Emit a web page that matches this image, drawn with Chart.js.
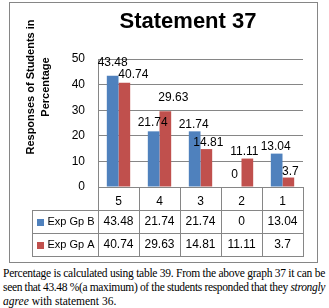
<!DOCTYPE html>
<html>
<head>
<meta charset="utf-8">
<script src="https://cdn.jsdelivr.net/npm/chart.js@4"></script>
<style>
  body { margin: 0; background: #fff; width: 329px; height: 308px; overflow: hidden; position: relative; }
  #c { position: absolute; left: 0; top: 0; }
  #cap { position: absolute; left: 3px; top: 266px; width: 322px; font: 11.5px "Liberation Serif"; line-height: 14px; color: #000; }
  #cap div { white-space: nowrap; }
  #cap span { display: inline-block; }
</style>
</head>
<body>
<canvas id="c" width="329" height="265"></canvas>
<div id="cap">
  <div class="fit"><span>Percentage is calculated using table 39. From the above graph 37 it can be</span></div>
  <div class="fit"><span>seen that 43.48 %(a maximum) of the students responded that they <i>strongly</i></span></div>
  <div><span><i>agree</i> with statement 36.</span></div>
</div>
<script>
const categories = ['5', '4', '3', '2', '1'];
const seriesNames = ['Exp Gp B', 'Exp Gp A'];
const expGpB = [43.48, 21.74, 21.74, 0, 13.04];
const expGpA = [40.74, 29.63, 14.81, 11.11, 3.7];
const yTicks = [0, 10, 20, 30, 40, 50];

const colors = ['#4F81BD', '#C0504D'];
const GRID = '#868686';
const FONT = '12px "Liberation Sans"';

// where excel nudged the value labels (dx, dy from bar top)
const labelShift = [
  [[0, -13], [-1, -9], [-1, -7], [-1, -12], [-1, -7]],
  [[9, -8], [8, -13], [2, -6], [-3, -7], [2, -6]]
];

// justify caption lines by hand so they never wrap
document.querySelectorAll('#cap .fit span').forEach(sp => {
  const target = 322;
  const w = sp.getBoundingClientRect().width;
  const txt = sp.textContent;
  if (w > target) {
    sp.style.letterSpacing = ((target - w) / txt.length) + 'px';
  } else {
    const spaces = (txt.match(/ /g) || []).length;
    sp.style.wordSpacing = ((target - w) / spaces) + 'px';
  }
});

const extras = {
  id: 'extras',
  afterDatasetsDraw(chart) {
    const ctx = chart.ctx;
    ctx.save();
    ctx.font = FONT;
    ctx.fillStyle = '#000';
    ctx.textAlign = 'center';
    ctx.textBaseline = 'middle';
    chart.data.datasets.forEach((ds, d) => {
      chart.getDatasetMeta(d).data.forEach((bar, i) => {
        const s = labelShift[d][i];
        ctx.fillText(String(ds.data[i]), bar.x + s[0], bar.y + s[1]);
      });
    });
    ctx.restore();
  },
  afterDraw(chart) {
    const ctx = chart.ctx;
    const xs = chart.scales.x;
    const area = chart.chartArea;
    ctx.save();

    // title
    ctx.fillStyle = '#000';
    ctx.font = 'bold 22px "Liberation Sans"';
    ctx.textAlign = 'center';
    ctx.textBaseline = 'alphabetic';
    ctx.fillText('Statement 37', 188, 28);

    // y axis title
    ctx.font = 'bold 11px "Liberation Sans"';
    [['Responses of Students in', 34], ['Percentage', 49]].forEach(([t, bx]) => {
      ctx.save();
      ctx.translate(bx, 87);
      ctx.rotate(-Math.PI / 2);
      ctx.fillText(t, 0, 0);
      ctx.restore();
    });

    // data table
    const top0 = area.bottom;
    const r1 = top0 + 23, r2 = r1 + 23, r3 = r2 + 23;
    const tl = 32;
    const colW = (xs.right - xs.left) / categories.length;
    ctx.strokeStyle = GRID;
    ctx.lineWidth = 1;
    ctx.beginPath();
    for (let i = 0; i <= categories.length; i++) {
      const x = Math.round(xs.left + i * colW) + 0.5;
      ctx.moveTo(x, top0);
      ctx.lineTo(x, r3);
    }
    ctx.moveTo(tl + 0.5, r1);
    ctx.lineTo(tl + 0.5, r3);
    [r1, r2, r3].forEach(y => {
      ctx.moveTo(tl, Math.round(y) + 0.5);
      ctx.lineTo(xs.right + 1, Math.round(y) + 0.5);
    });
    ctx.stroke();

    const rows = [expGpB, expGpA];
    const mids = [(r1 + r2) / 2, (r2 + r3) / 2];
    rows.forEach((vals, d) => {
      const ym = mids[d];
      ctx.fillStyle = colors[d];
      ctx.fillRect(37, Math.round(ym) - 3, 7, 7);
      ctx.fillStyle = '#000';
      ctx.font = '11px "Liberation Sans"';
      ctx.textAlign = 'left';
      ctx.textBaseline = 'middle';
      ctx.fillText(seriesNames[d], 47.5, ym + 0.5);
      ctx.font = FONT;
      ctx.textAlign = 'center';
      vals.forEach((v, i) => {
        ctx.fillText(String(v), xs.getPixelForValue(i), ym + 0.5);
      });
    });

    // outer frame
    ctx.strokeStyle = GRID;
    ctx.strokeRect(9.5, 2.5, 308, 260);
    ctx.restore();
  }
};

new Chart(document.getElementById('c'), {
  type: 'bar',
  data: {
    labels: categories,
    datasets: [
      { label: seriesNames[0], data: expGpB, backgroundColor: colors[0] },
      { label: seriesNames[1], data: expGpA, backgroundColor: colors[1] }
    ]
  },
  options: {
    responsive: false,
    animation: false,
    layout: { padding: { top: 59, right: 26, left: 0, bottom: 0 } },
    plugins: { legend: { display: false }, tooltip: { enabled: false } },
    datasets: { bar: { categoryPercentage: 0.57, barPercentage: 1 } },
    scales: {
      x: {
        grid: { display: false, drawTicks: false },
        border: { display: false },
        ticks: { padding: 7, color: '#000', font: { family: 'Liberation Sans', size: 12 } },
        afterFit(s) { s.height = 78; }
      },
      y: {
        min: yTicks[0],
        max: yTicks[yTicks.length - 1],
        ticks: { stepSize: yTicks[1] - yTicks[0], padding: 13, color: '#000', font: { family: 'Liberation Sans', size: 12 } },
        grid: { color: GRID, drawTicks: false },
        border: { display: true, color: GRID },
        afterFit(s) { s.width = 98; }
      }
    }
  },
  plugins: [extras]
});
</script>
</body>
</html>
